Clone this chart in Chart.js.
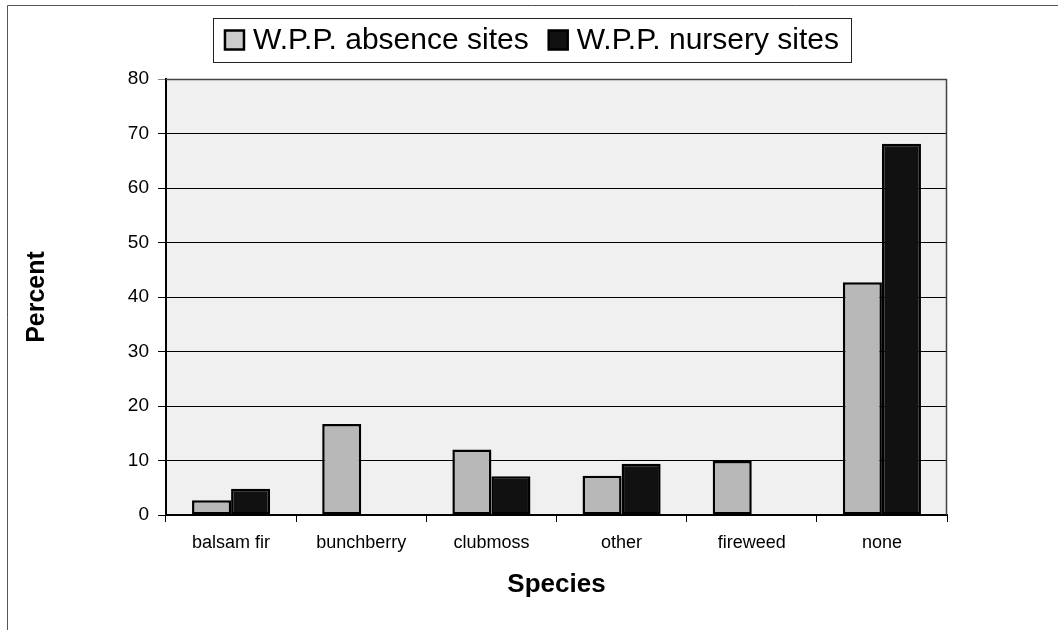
<!DOCTYPE html>
<html>
<head>
<meta charset="utf-8">
<script src="https://cdn.jsdelivr.net/npm/chart.js@4"></script>
<style>
  html, body { margin: 0; padding: 0; background: #fff; }
  #wrap { width: 1058px; height: 630px; position: relative; }
</style>
</head>
<body>
<div id="wrap"><canvas id="speciesChart" width="1058" height="630"></canvas></div>
<script>
const species = ['balsam fir', 'bunchberry', 'clubmoss', 'other', 'fireweed', 'none'];
const absenceSites = [2.7, 16.7, 12.0, 7.2, 9.9, 42.7];
const nurserySites = [4.8, 0, 7.1, 9.4, 0, 68.1];
const seriesLabels = ['W.P.P. absence sites', 'W.P.P. nursery sites'];
const yTicks = [0, 10, 20, 30, 40, 50, 60, 70, 80];

const FONT = '"Liberation Sans", Arial, sans-serif';

// plot background, outer frame
const framePlugin = {
  id: 'frame',
  beforeDraw(chart) {
    const { ctx, chartArea: a } = chart;
    ctx.save();
    ctx.fillStyle = '#ffffff';
    ctx.fillRect(0, 0, chart.width, chart.height);
    ctx.fillStyle = '#f0f0f0';
    ctx.fillRect(a.left, a.top, a.right - a.left, a.bottom - a.top);
    ctx.strokeStyle = '#555';
    ctx.lineWidth = 1;
    ctx.beginPath();
    ctx.moveTo(7.5, 630);
    ctx.lineTo(7.5, 5.5);
    ctx.lineTo(1058, 5.5);
    ctx.stroke();
    ctx.restore();
  },
  afterDraw(chart) {
    const { ctx, chartArea: a } = chart;
    ctx.save();
    ctx.strokeStyle = '#444';
    ctx.lineWidth = 1.5;
    ctx.beginPath();
    ctx.moveTo(a.left, a.top + 0.5);
    ctx.lineTo(a.right - 0.5, a.top + 0.5);
    ctx.lineTo(a.right - 0.5, a.bottom);
    ctx.stroke();

    // legend with a frame round it
    ctx.font = '30px ' + FONT;
    const box = 19, gap = 9, between = 20, padX = 12;
    const items = chart.data.datasets.map(ds => ({
      label: ds.label, color: ds.backgroundColor, w: ctx.measureText(ds.label).width
    }));
    const total = items.reduce((s, it) => s + box + gap + it.w, 0) + between * (items.length - 1);
    const cx = 532, top = 18, h = 44;
    let x = cx - total / 2;
    ctx.strokeStyle = '#222';
    ctx.lineWidth = 1;
    ctx.strokeRect(Math.round(x - padX) + 0.5, top + 0.5, Math.round(total + padX * 2), h);
    const mid = top + h / 2;
    ctx.textBaseline = 'middle';
    items.forEach(it => {
      ctx.fillStyle = it.color === '#b8b8b8' ? '#cccccc' : it.color;
      ctx.fillRect(x, mid - box / 2, box, box);
      ctx.strokeStyle = '#000';
      ctx.lineWidth = 2.5;
      ctx.strokeRect(x, mid - box / 2, box, box);
      ctx.fillStyle = '#000';
      ctx.fillText(it.label, x + box + gap, mid + 1);
      x += box + gap + it.w + between;
    });
    ctx.restore();
  }
};

new Chart(document.getElementById('speciesChart').getContext('2d'), {
  type: 'bar',
  data: {
    labels: species,
    datasets: [{
      label: seriesLabels[0],
      data: absenceSites,
      backgroundColor: '#b8b8b8',
      borderColor: '#000',
      borderWidth: 2.5,
      borderSkipped: false,
      categoryPercentage: 0.6,
      barPercentage: 1.0,
    }, {
      label: seriesLabels[1],
      data: nurserySites,
      backgroundColor: '#111111',
      borderColor: '#000',
      borderWidth: 2.5,
      borderSkipped: false,
      categoryPercentage: 0.6,
      barPercentage: 1.0,
    }],
  },
  options: {
    responsive: false,
    animation: false,
    layout: { padding: { left: 8, right: 111, top: 79, bottom: 25 } },
    plugins: {
      legend: { display: false },
      tooltip: { enabled: false },
    },
    scales: {
      x: {
        offset: true,
        afterFit(scale) { scale.height = 90; },
        grid: { drawOnChartArea: false, color: '#000', tickLength: 7, offset: true },
        border: { color: '#000', width: 2 },
        ticks: { color: '#000', font: { family: FONT, size: 18 }, padding: 10, maxRotation: 0 },
        title: {
          display: true, text: 'Species', color: '#000',
          font: { family: FONT, size: 26, weight: 'bold' },
          padding: { top: 0, bottom: 5 },
        },
      },
      y: {
        min: 0,
        max: 80,
        afterFit(scale) { scale.width = 158; },
        afterBuildTicks(scale) { scale.ticks = yTicks.map(v => ({ value: v })); },
        grid: {
          color: ctx => (ctx.tick && ctx.tick.value === 80 ? '#888' : '#000'),
          lineWidth: 1,
          tickLength: 8,
        },
        border: { color: '#000', width: 2 },
        ticks: { color: '#000', font: { family: FONT, size: 19 }, padding: 9 },
        title: {
          display: true, text: 'Percent', color: '#000',
          font: { family: FONT, size: 25, weight: 'bold' },
          padding: { top: 14, bottom: 0 },
        },
      },
    },
  },
  plugins: [framePlugin],
});
</script>
</body>
</html>
